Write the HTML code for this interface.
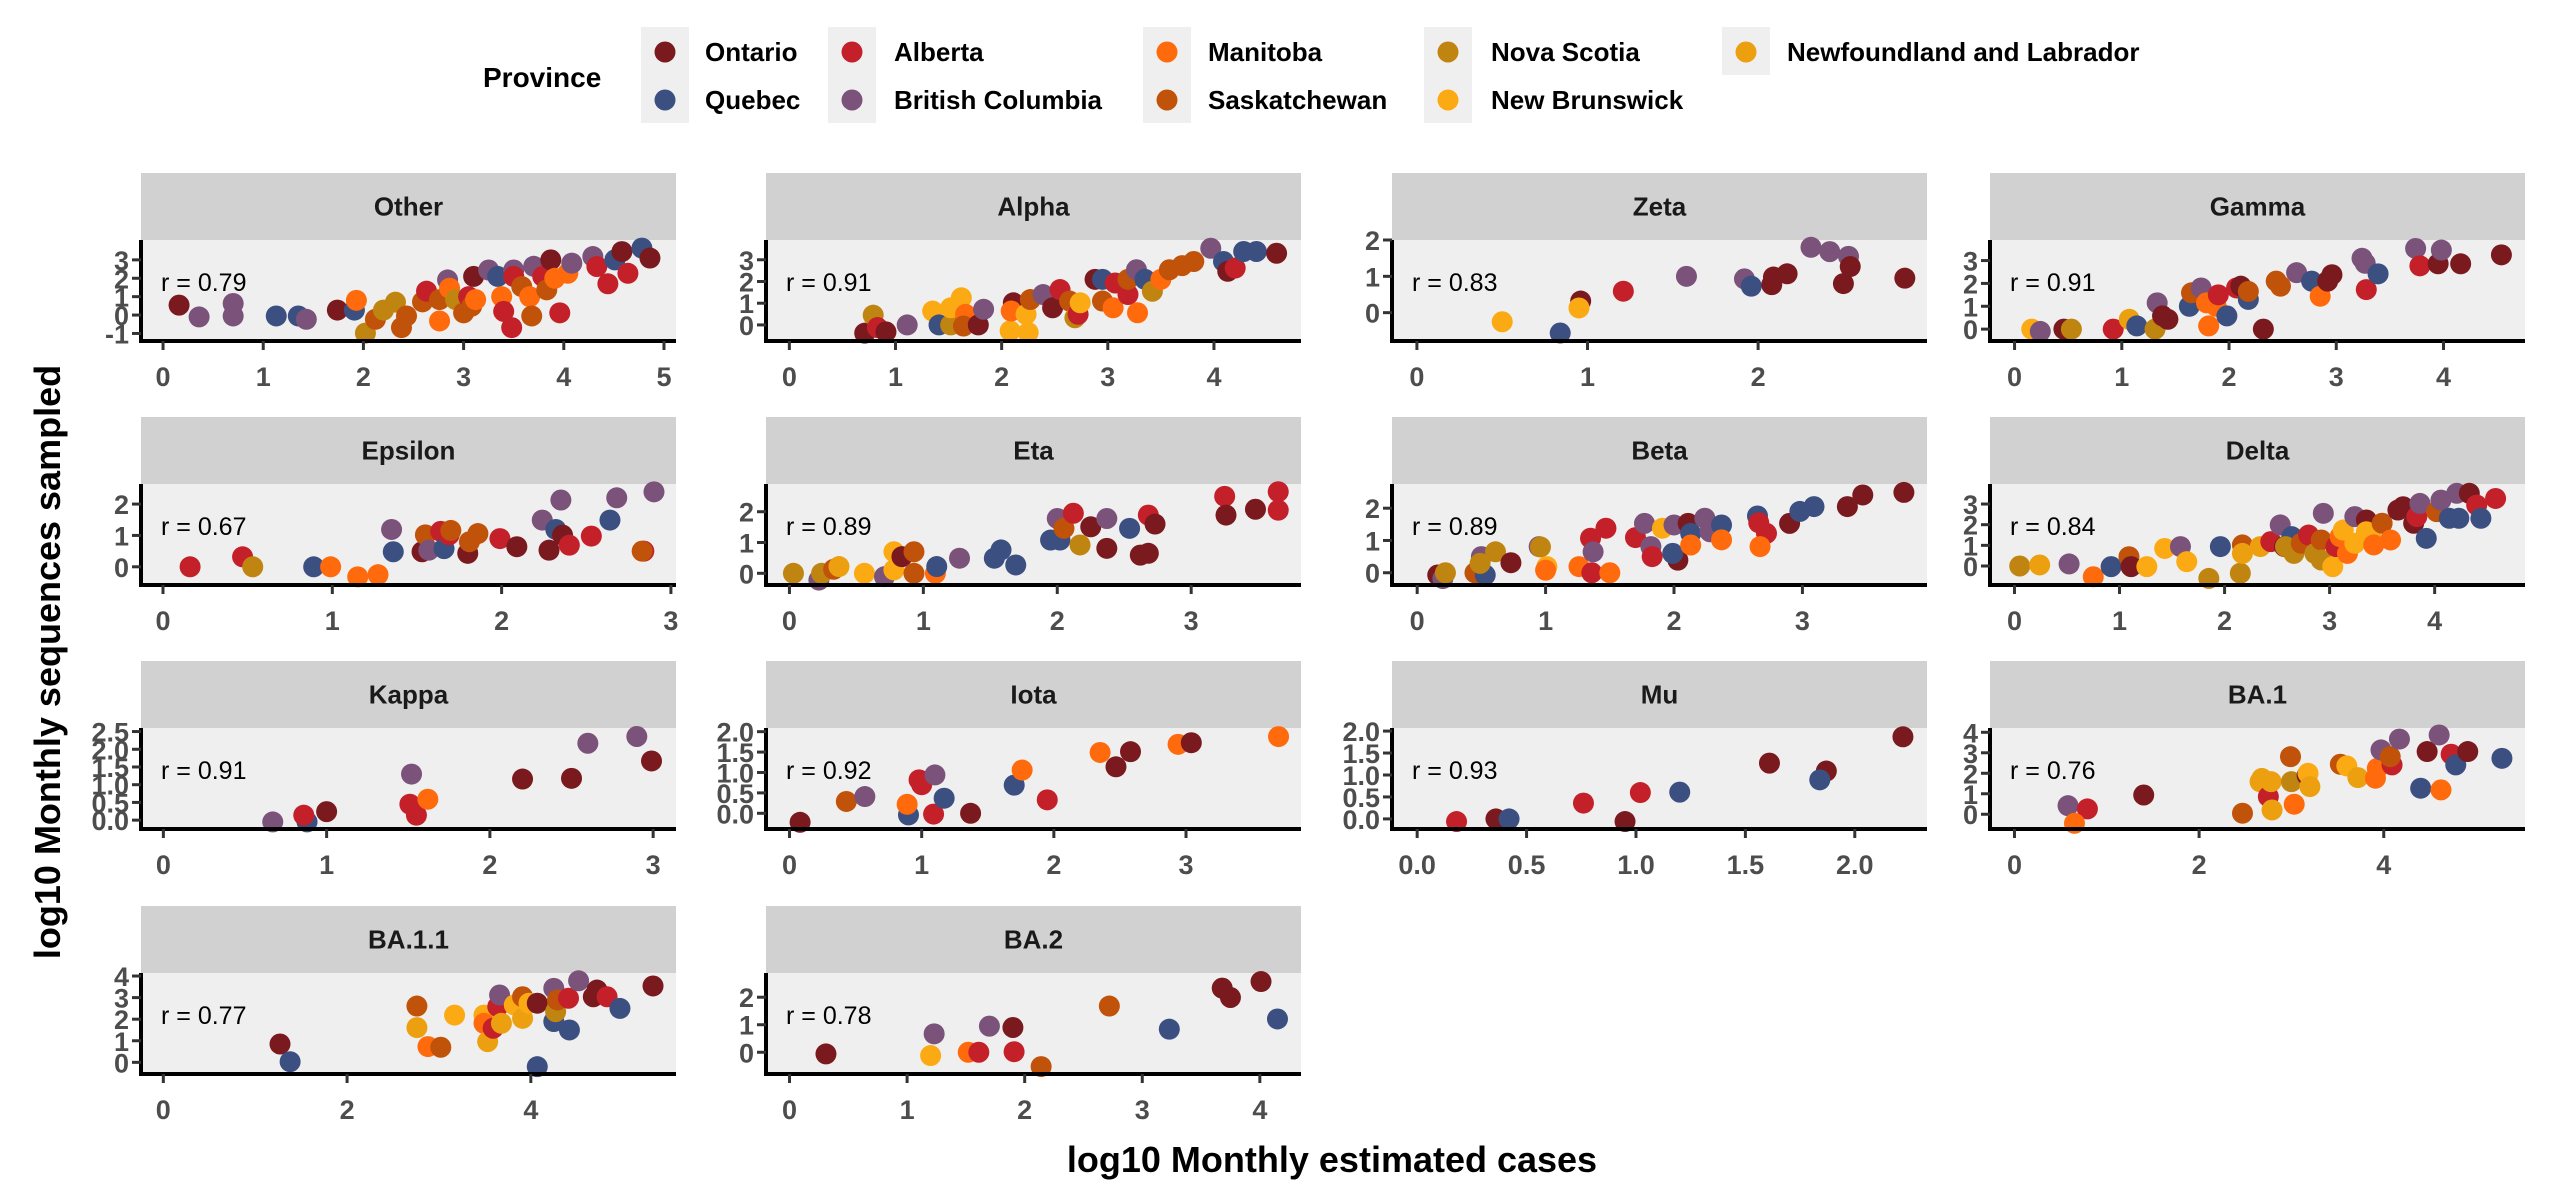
<!DOCTYPE html>
<html><head><meta charset="utf-8"><style>
html,body{margin:0;padding:0;background:#fff}
svg{display:block;font-family:"Liberation Sans",Arial,sans-serif}
</style></head><body>
<svg id="chart" width="2550" height="1200" viewBox="0 0 2550 1200" xmlns="http://www.w3.org/2000/svg">
<rect width="2550" height="1200" fill="#fff"/>
<g id="legend"></g>
<g id="panels"></g>
<text x="1332" y="1172" text-anchor="middle" font-size="36" font-weight="bold" fill="#000">log10 Monthly estimated cases</text>
<text transform="translate(60,662) rotate(-90)" text-anchor="middle" font-size="36" font-weight="bold" fill="#000">log10 Monthly sequences sampled</text>
</svg>
<script>
const provinces = ["Ontario","Quebec","Alberta","British Columbia","Manitoba","Saskatchewan","Nova Scotia","New Brunswick","Newfoundland and Labrador"];
const provColors = ["#7a1a1f","#3b4f80","#c4202a","#7a527a","#ff6a0d","#c0520a","#c08510","#fbaa14","#eca010"];
const variantNames = ["Other","Alpha","Zeta","Gamma","Epsilon","Eta","Beta","Delta","Kappa","Iota","Mu","BA.1","BA.1.1","BA.2"];
const rValues = ["0.79","0.91","0.83","0.91","0.67","0.89","0.89","0.84","0.91","0.92","0.93","0.76","0.77","0.78"];
const xTicks = [[0,1,2,3,4,5],[0,1,2,3,4],[0,1,2],[0,1,2,3,4],[0,1,2,3],[0,1,2,3],[0,1,2,3],[0,1,2,3,4],[0,1,2,3],[0,1,2,3],[0,0.5,1,1.5,2],[0,2,4],[0,2,4],[0,1,2,3,4]];
const xTickLabels = [["0","1","2","3","4","5"],["0","1","2","3","4"],["0","1","2"],["0","1","2","3","4"],["0","1","2","3"],["0","1","2","3"],["0","1","2","3"],["0","1","2","3","4"],["0","1","2","3"],["0","1","2","3"],["0.0","0.5","1.0","1.5","2.0"],["0","2","4"],["0","2","4"],["0","1","2","3","4"]];
const yTicks = [[-1,0,1,2,3],[0,1,2,3],[0,1,2],[0,1,2,3],[0,1,2],[0,1,2],[0,1,2],[0,1,2,3],[0,0.5,1,1.5,2,2.5],[0,0.5,1,1.5,2],[0,0.5,1,1.5,2],[0,1,2,3,4],[0,1,2,3,4],[0,1,2]];
const yTickLabels = [["-1","0","1","2","3"],["0","1","2","3"],["0","1","2"],["0","1","2","3"],["0","1","2"],["0","1","2"],["0","1","2"],["0","1","2","3"],["0.0","0.5","1.0","1.5","2.0","2.5"],["0.0","0.5","1.0","1.5","2.0"],["0.0","0.5","1.0","1.5","2.0"],["0","1","2","3","4"],["0","1","2","3","4"],["0","1","2"]];
const xLimits = [[-0.22,5.12],[-0.22,4.82],[-0.146,2.99],[-0.229,4.76],[-0.13,3.03],[-0.175,3.82],[-0.196,3.97],[-0.233,4.86],[-0.137,3.14],[-0.178,3.87],[-0.115,2.33],[-0.265,5.53],[-0.243,5.58],[-0.2,4.35]];
const yLimits = [[-1.41,4.08],[-0.74,3.91],[-0.78,2.0],[-0.52,3.9],[-0.58,2.64],[-0.38,2.9],[-0.38,2.75],[-0.92,3.97],[-0.25,2.6],[-0.385,2.09],[-0.23,2.07],[-0.72,4.21],[-0.54,4.14],[-0.79,2.88]];
// points: [log10 cases, log10 sequences, province index]
const ptsOther = [[0.16,0.54,0],[0.36,-0.1,3],[0.7,0.63,3],[0.7,-0.05,3],[1.13,-0.05,1],[1.35,-0.05,1],[1.43,-0.23,3],[1.74,0.27,0],[1.91,0.27,1],[1.93,0.8,4],[2.02,-0.98,6],[2.12,-0.23,5],[2.2,0.27,6],[2.32,0.7,6],[2.38,-0.68,5],[2.43,-0.05,5],[2.59,0.72,5],[2.63,1.3,2],[2.76,-0.32,4],[2.76,0.84,5],[2.84,1.91,3],[2.86,1.46,4],[2.92,0.84,6],[3.0,0.12,5],[3.05,1.0,2],[3.08,0.48,5],[3.12,0.84,4],[3.1,2.1,0],[3.25,2.45,3],[3.34,2.1,1],[3.38,1.0,4],[3.4,0.2,2],[3.48,-0.68,2],[3.5,2.45,3],[3.5,2.1,2],[3.58,1.55,5],[3.66,1.0,4],[3.68,-0.05,5],[3.7,2.65,3],[3.79,2.1,2],[3.83,1.37,5],[3.87,3.0,0],[3.91,2.0,4],[3.96,0.12,2],[4.04,2.27,4],[4.08,2.82,3],[4.29,3.18,3],[4.33,2.64,2],[4.44,1.7,2],[4.51,3.0,1],[4.58,3.45,0],[4.64,2.27,2],[4.78,3.64,1],[4.86,3.1,0]];
const ptsAlpha = [[0.71,-0.38,0],[0.79,0.45,6],[0.83,-0.12,2],[0.91,-0.32,0],[1.11,0,3],[1.35,0.64,7],[1.41,0,1],[1.52,0,6],[1.52,0.79,7],[1.62,1.25,7],[1.66,0.49,4],[1.64,-0.05,5],[1.78,0,0],[1.83,0.72,3],[2.08,-0.27,7],[2.11,1.02,0],[2.09,0.64,4],[2.23,0.49,7],[2.25,-0.35,7],[2.27,1.17,5],[2.39,1.4,3],[2.48,0.79,0],[2.55,1.63,2],[2.64,1.1,5],[2.69,0.33,6],[2.72,0.49,2],[2.74,1.02,7],[2.88,2.1,0],[2.95,2.1,1],[2.95,1.1,5],[3.05,0.79,4],[3.07,1.93,2],[3.19,1.4,2],[3.19,2.1,5],[3.27,2.54,3],[3.28,0.56,4],[3.35,2.1,1],[3.42,1.55,6],[3.5,2.1,4],[3.58,2.54,5],[3.7,2.73,5],[3.81,2.92,5],[3.97,3.53,3],[4.09,2.92,1],[4.13,2.47,0],[4.2,2.62,2],[4.28,3.38,1],[4.4,3.38,1],[4.59,3.3,0]];
const ptsZeta = [[0.5,-0.25,7],[0.84,-0.56,1],[0.96,0.32,0],[0.95,0.13,7],[1.21,0.59,2],[1.58,1.0,3],[1.92,0.93,3],[1.96,0.73,1],[2.08,0.77,0],[2.09,0.98,0],[2.17,1.07,0],[2.31,1.8,3],[2.42,1.68,3],[2.53,1.55,3],[2.54,1.27,0],[2.5,0.8,0],[2.86,0.95,0]];
const ptsGamma = [[0.16,0,7],[0.24,-0.1,3],[0.46,0,0],[0.53,0,6],[0.92,0,2],[1.07,0.43,8],[1.14,0.14,1],[1.31,0,6],[1.33,1.15,3],[1.38,0.58,0],[1.43,0.43,0],[1.63,1.0,1],[1.65,1.59,5],[1.74,1.8,3],[1.79,1.15,4],[1.81,0.14,4],[1.88,1.0,4],[1.9,1.5,2],[1.98,0.58,1],[2.07,1.8,2],[2.11,1.88,0],[2.18,1.3,1],[2.18,1.65,5],[2.32,0,0],[2.44,2.1,5],[2.48,1.88,5],[2.63,2.47,3],[2.77,2.1,1],[2.85,1.44,4],[2.92,2.1,0],[2.96,2.38,0],[3.24,3.1,3],[3.27,2.88,3],[3.28,1.73,2],[3.39,2.42,1],[3.74,3.53,3],[3.78,2.77,2],[3.95,2.86,0],[3.98,3.46,3],[4.16,2.86,0],[4.54,3.25,0]];
const ptsEpsilon = [[0.16,0,2],[0.47,0.32,2],[0.53,0,6],[0.89,0,1],[0.99,0,4],[1.15,-0.32,4],[1.27,-0.25,4],[1.35,1.19,3],[1.36,0.48,1],[1.53,0.48,0],[1.55,1.02,5],[1.57,0.53,3],[1.64,1.13,2],[1.66,0.58,1],[1.69,1.02,2],[1.7,1.16,5],[1.8,0.43,0],[1.81,0.8,5],[1.86,1.06,5],[1.99,0.9,2],[2.09,0.64,0],[2.24,1.49,3],[2.28,0.53,0],[2.32,1.19,1],[2.35,2.13,3],[2.36,1.01,0],[2.4,0.69,2],[2.53,0.98,2],[2.64,1.49,1],[2.68,2.2,3],[2.84,0.5,2],[2.83,0.5,5],[2.9,2.39,3]];
const ptsEta = [[0.03,0,6],[0.22,-0.22,3],[0.24,0,6],[0.33,0.13,5],[0.37,0.22,8],[0.56,0,7],[0.71,-0.11,3],[0.78,0.7,7],[0.78,0.11,7],[0.84,0.54,0],[0.93,0.7,5],[0.93,0,5],[1.09,0,4],[1.1,0.22,1],[1.27,0.49,3],[1.53,0.49,1],[1.58,0.76,1],[1.69,0.27,1],[1.95,1.08,1],[2.0,1.78,3],[2.02,1.08,1],[2.05,1.46,5],[2.12,1.95,2],[2.17,0.92,6],[2.25,1.51,0],[2.37,1.78,3],[2.37,0.81,0],[2.54,1.46,1],[2.62,0.59,0],[2.68,0.65,0],[2.68,1.89,2],[2.73,1.6,0],[3.25,2.5,2],[3.26,1.89,0],[3.48,2.08,0],[3.65,2.65,2],[3.65,2.05,2]];
const ptsBeta = [[0.16,-0.07,0],[0.2,-0.18,3],[0.22,0,6],[0.45,0,5],[0.53,-0.07,1],[0.5,0.5,3],[0.49,0.29,6],[0.61,0.65,6],[0.73,0.31,0],[0.95,0.81,3],[0.96,0.8,6],[1.01,0.19,7],[1.0,0.08,4],[1.26,0.19,4],[1.35,1.07,2],[1.36,0,2],[1.37,0.65,3],[1.47,1.38,2],[1.5,0,4],[1.7,1.09,2],[1.77,1.53,3],[1.82,0.81,3],[1.83,0.5,2],[1.91,1.38,7],[2.0,1.48,3],[2.03,0.39,0],[1.99,0.6,1],[2.11,1.53,0],[2.13,1.22,1],[2.13,0.86,4],[2.24,1.69,3],[2.28,1.27,3],[2.37,1.48,1],[2.37,1.02,4],[2.65,1.76,1],[2.66,1.55,2],[2.72,1.22,2],[2.67,0.81,4],[2.9,1.53,0],[2.98,1.9,1],[3.09,2.05,1],[3.35,2.05,0],[3.47,2.41,0],[3.79,2.49,0]];
const ptsDelta = [[0.05,0,6],[0.24,0.05,8],[0.52,0.1,3],[0.75,-0.52,4],[0.92,-0.03,1],[1.09,0.45,5],[1.11,-0.03,0],[1.26,-0.03,7],[1.43,0.85,7],[1.58,0.94,3],[1.64,0.21,7],[1.85,-0.6,6],[1.96,0.94,1],[2.15,-0.35,6],[2.17,1.02,5],[2.17,0.61,8],[2.34,0.94,8],[2.44,1.18,2],[2.53,1.99,3],[2.57,0.94,0],[2.64,1.42,1],[2.58,0.94,6],[2.66,0.61,6],[2.73,1.1,5],[2.8,1.5,2],[2.86,0.61,6],[2.92,1.26,5],[2.94,2.55,3],[2.92,0.29,6],[3.03,-0.03,7],[3.06,0.94,2],[3.1,1.42,4],[3.13,1.74,7],[3.17,0.61,4],[3.24,2.39,3],[3.24,1.1,7],[3.35,2.23,0],[3.35,1.66,7],[3.39,1.42,7],[3.42,1.02,4],[3.5,2.07,5],[3.58,1.26,4],[3.65,2.71,0],[3.7,2.87,0],[3.8,2.07,0],[3.83,2.39,2],[3.86,3.03,3],[3.92,1.34,1],[4.02,2.63,5],[4.06,3.19,3],[4.14,2.31,1],[4.21,3.52,3],[4.23,2.31,1],[4.33,3.52,0],[4.4,2.95,2],[4.44,2.31,1],[4.58,3.27,2]];
const ptsKappa = [[0.67,-0.05,3],[0.88,-0.05,1],[0.86,0.14,2],[1.0,0.24,0],[1.51,0.45,2],[1.52,1.3,3],[1.55,0.14,2],[1.62,0.59,4],[2.2,1.16,0],[2.5,1.18,0],[2.6,2.17,3],[2.9,2.36,3],[2.99,1.67,0]];
const ptsIota = [[0.08,-0.22,0],[0.43,0.29,5],[0.57,0.41,3],[0.9,-0.04,1],[0.89,0.22,4],[0.98,0.82,2],[1.0,0.7,2],[1.1,0.94,3],[1.09,-0.02,2],[1.17,0.37,1],[1.37,0,0],[1.7,0.69,1],[1.76,1.06,4],[1.95,0.33,2],[2.35,1.49,4],[2.47,1.14,0],[2.58,1.51,0],[2.94,1.69,4],[3.04,1.73,0],[3.7,1.88,4]];
const ptsMu = [[0.18,-0.06,2],[0.36,0,0],[0.42,0,1],[0.76,0.36,2],[0.95,-0.06,0],[1.02,0.6,2],[1.2,0.61,1],[1.61,1.27,0],[1.87,1.09,0],[1.84,0.89,1],[2.22,1.87,0]];
const ptsBA1 = [[0.58,0.42,3],[0.79,0.26,2],[0.65,-0.44,4],[1.4,0.94,0],[2.47,0.05,5],[2.66,1.59,8],[2.68,1.75,8],[2.75,0.86,2],[2.79,0.21,8],[2.78,1.59,8],[2.99,2.81,5],[3.0,1.59,6],[3.03,0.49,4],[3.17,1.9,0],[3.18,2.0,7],[3.2,1.35,8],[3.53,2.44,5],[3.6,2.36,7],[3.72,1.79,8],[3.91,1.76,4],[3.93,2.24,4],[3.97,3.14,3],[4.09,2.41,2],[4.07,2.81,5],[4.17,3.67,3],[4.4,1.27,1],[4.47,3.06,0],[4.6,3.87,3],[4.62,1.19,4],[4.73,2.93,2],[4.78,2.41,1],[4.91,3.06,0],[5.28,2.73,1]];
const ptsBA11 = [[1.27,0.85,0],[1.38,0.03,1],[2.76,2.61,5],[2.76,1.61,8],[2.88,0.73,4],[3.02,0.7,5],[3.17,2.19,7],[3.49,2.19,7],[3.49,1.81,4],[3.53,0.96,8],[3.59,1.58,2],[3.64,2.58,2],[3.66,3.12,3],[3.68,1.81,8],[3.82,2.66,7],[3.91,3.04,5],[3.91,2.04,8],[3.98,2.74,7],[4.07,2.74,0],[4.07,-0.2,1],[4.25,3.43,3],[4.25,1.89,1],[4.27,2.35,6],[4.29,2.89,5],[4.41,2.97,2],[4.42,1.5,1],[4.52,3.78,3],[4.68,3.04,0],[4.72,3.35,0],[4.83,3.04,2],[4.97,2.5,1],[5.33,3.54,0]];
const ptsBA2 = [[0.31,-0.06,0],[1.2,-0.12,7],[1.23,0.67,3],[1.52,0,4],[1.61,0,2],[1.7,0.95,3],[1.9,0.9,0],[1.91,0.02,2],[2.14,-0.52,5],[2.72,1.68,5],[3.23,0.84,1],[3.68,2.33,0],[3.75,1.99,0],[4.01,2.57,0],[4.15,1.21,1]];
const allPoints = [ptsOther,ptsAlpha,ptsZeta,ptsGamma,ptsEpsilon,ptsEta,ptsBeta,ptsDelta,ptsKappa,ptsIota,ptsMu,ptsBA1,ptsBA11,ptsBA2];

const NS = "http://www.w3.org/2000/svg";
function mk(tag, attrs, parent, txt){
  const e = document.createElementNS(NS, tag);
  for (const k in attrs) e.setAttribute(k, attrs[k]);
  if (txt !== undefined) e.textContent = txt;
  parent.appendChild(e);
  return e;
}
// Legend
const lg = document.getElementById('legend');
const pt = mk('text', {x:483, y:87, 'font-size':28, 'font-weight':'bold', fill:'#000'}, lg, 'Province');


const legCols = [665, 852, 1167, 1448, 1746];
const legTextX = [705, 894, 1208, 1491, 1787];
const legOrder = [[0,1],[2,3],[4,5],[6,7],[8]];
legOrder.forEach((col, ci) => {
  mk('rect', {x:legCols[ci]-24, y:27, width:48, height: col.length===2 ? 96 : 48, fill:'#efefef'}, lg);
  col.forEach((p, ri) => {
    const cy = ri===0 ? 52 : 100;
    const g = mk('g', {}, lg);
    
    
    mk('circle', {cx:legCols[ci], cy:cy, r:10.5, fill:provColors[p]}, g);
    mk('text', {x:legTextX[ci], y:cy+9, 'font-size':26, 'font-weight':'bold', fill:'#000'}, g, provinces[p]);
  });
});
// Panels
const colLeft = [141, 766, 1392, 1990];
const rowTop = [173, 417, 661, 906];
const W = 535, SH = 67, PH = 101;
const root = document.getElementById('panels');
variantNames.forEach((name, i) => {
  const c = i % 4, r = Math.floor(i / 4);
  const L = colLeft[c], T = rowTop[r], PT = T + SH, PB = PT + PH;
  const g = mk('g', {}, root);
  
  
  const xs = v => L + (v - xLimits[i][0]) / (xLimits[i][1] - xLimits[i][0]) * W;
  const ys = v => PB - (v - yLimits[i][0]) / (yLimits[i][1] - yLimits[i][0]) * PH;
  const strip = mk('rect', {x:L, y:T, width:W, height:SH, fill:'#d1d1d1'}, g);
  
  
  const st = mk('text', {x:L+W/2, y:T+SH/2+9, 'text-anchor':'middle', 'font-size':26, 'font-weight':'bold', fill:'#1a1a1a'}, g, name);
  
  
  mk('rect', {x:L, y:PT, width:W, height:PH, fill:'#efefef'}, g);
  const pts = allPoints[i];
  pts.forEach(p => {
    const d = mk('circle', {cx:xs(p[0]), cy:ys(p[1]), r:10.5, fill:provColors[p[2]]}, g);
    
    
  });
  const rt = mk('text', {x:L+20, y:PT+51, 'font-size':25, fill:'#000'}, g, 'r = ' + rValues[i]);
  
  
  mk('line', {x1:L, y1:PT, x2:L, y2:PB+2, stroke:'#000', 'stroke-width':4}, g);
  mk('line', {x1:L-2, y1:PB, x2:L+W, y2:PB, stroke:'#000', 'stroke-width':4}, g);
  xTicks[i].forEach((t, k) => {
    const x = xs(t);
    mk('line', {x1:x, y1:PB, x2:x, y2:PB+9, stroke:'#333', 'stroke-width':3}, g);
    const tl = mk('text', {x:x, y:PB+45, 'text-anchor':'middle', 'font-size':27, 'font-weight':'bold', fill:'#4d4d4d'}, g, xTickLabels[i][k]);
    
    
  });
  yTicks[i].forEach((t, k) => {
    const y = ys(t);
    mk('line', {x1:L-9, y1:y, x2:L, y2:y, stroke:'#333', 'stroke-width':3}, g);
    const tl = mk('text', {x:L-12, y:y+10, 'text-anchor':'end', 'font-size':27, 'font-weight':'bold', fill:'#4d4d4d'}, g, yTickLabels[i][k]);
    
    
  });
});
</script>
</body></html>
